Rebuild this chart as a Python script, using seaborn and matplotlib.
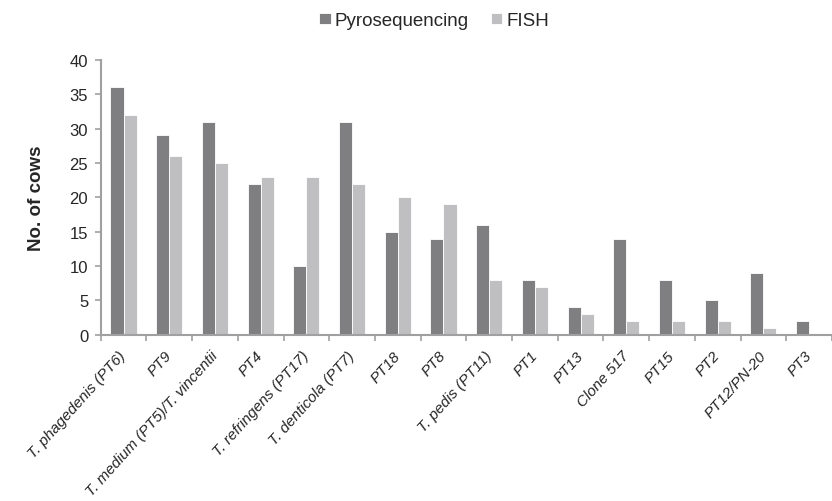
import matplotlib
matplotlib.use('Agg')
import matplotlib.pyplot as plt
import numpy as np
import pandas as pd
import seaborn as sns

categories = ['T. phagedenis (PT6)', 'PT9', 'T. medium (PT5)/T. vincentii', 'PT4',
              'T. refringens (PT17)', 'T. denticola (PT7)', 'PT18', 'PT8',
              'T. pedis (PT11)', 'PT1', 'PT13', 'Clone 517', 'PT15', 'PT2',
              'PT12/PN-20', 'PT3']
pyro = [36, 29, 31, 22, 10, 31, 15, 14, 16, 8, 4, 14, 8, 5, 9, 2]
fish = [32, 26, 25, 23, 23, 22, 20, 19, 8, 7, 3, 2, 2, 2, 1, 0]
methods = ['Pyrosequencing', 'FISH']

df = pd.DataFrame({
    'Taxon': categories * 2,
    'Cows': pyro + fish,
    'Method': [methods[0]] * len(categories) + [methods[1]] * len(categories),
})

sns.set_style('white')
plt.rcParams['font.family'] = ['Liberation Sans', 'DejaVu Sans']

fig = plt.figure(figsize=(8.32, 5.02), dpi=100)
ax = fig.add_axes([0.121, 0.331, 0.879, 0.548])

sns.barplot(data=df, x='Taxon', y='Cows', hue='Method', order=categories,
            hue_order=methods, palette=['#7f7f82', '#bebfc2'], width=0.57,
            edgecolor='white', linewidth=0.6, ax=ax)

ax.set_ylim(0, 40)
ax.set_yticks(np.arange(0, 41, 5))
ax.set_xlim(-0.5, len(categories) - 0.5)
ax.set_xlabel('')
ax.set_ylabel('No. of cows', fontsize=13.5, fontweight='bold', labelpad=18)

# category labels at the centres, tick marks between groups
ax.set_xticks(np.arange(len(categories)))
ax.set_xticklabels(categories, rotation=48, ha='right', va='center',
                   rotation_mode='anchor', fontstyle='italic', fontsize=11)
ax.set_xticks(np.arange(-0.5, len(categories), 1.0), minor=True)
ax.tick_params(axis='x', which='major', length=0, pad=13)
ax.tick_params(axis='x', which='minor', length=4, width=1.2, color='#a0a0a0',
               direction='out', bottom=True)
ax.tick_params(axis='y', length=4, width=1.2, color='#a0a0a0', direction='out',
               left=True, labelsize=12, pad=5)

sns.despine(ax=ax)
for side in ['left', 'bottom']:
    ax.spines[side].set_color('#a0a0a0')
    ax.spines[side].set_linewidth(1.5)

ax.legend(loc='lower center', bbox_to_anchor=(0.456, 1.05), ncol=2, frameon=False,
          fontsize=13.5, handlelength=0.6, handleheight=0.6, handletextpad=0.2,
          columnspacing=1.2, title=None)

fig.savefig('out.png', dpi=100)
